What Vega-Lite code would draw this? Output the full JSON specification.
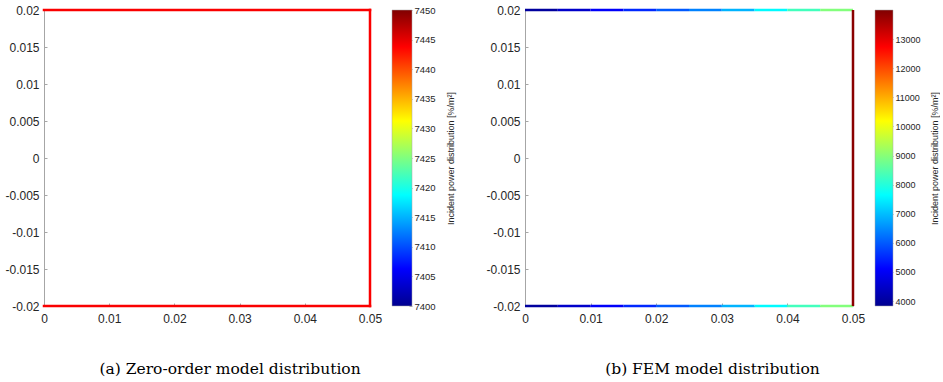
{
  "$schema": "https://vega.github.io/schema/vega-lite/v6.json",
  "padding": {"left": 4, "top": 4, "right": 0, "bottom": 0},
  "background": "white",
  "config": {
    "view": {"stroke": null},
    "axis": {
      "labelFont": "Liberation Sans",
      "labelFontSize": 12,
      "labelColor": "#262626",
      "labelFlush": false,
      "domainColor": "#a6a6a6",
      "tickColor": "#a6a6a6",
      "grid": false,
      "tickSize": -3,
      "titleFont": "Liberation Sans",
      "titleFontWeight": "normal",
      "titleColor": "#262626"
    },
    "axisX": {"labelPadding": 10},
    "axisY": {"labelPadding": 8},
    "title": {"font": "DejaVu Serif", "fontSize": 15.5, "fontWeight": "normal", "color": "#000000"}
  },
  "datasets": {
    "zero": [
      {"x": 0, "x2": 0.05, "y": 0.02, "y2": 0.02, "value": 7444},
      {"x": 0, "x2": 0.05, "y": -0.02, "y2": -0.02, "value": 7444},
      {"x": 0.05, "x2": 0.05, "y": -0.02, "y2": 0.02, "value": 7444}
    ],
    "fem": [
      {"x": 0, "x2": 0.005, "y": 0.02, "y2": 0.02, "value": 4000},
      {"x": 0.005, "x2": 0.01, "y": 0.02, "y2": 0.02, "value": 4500},
      {"x": 0.01, "x2": 0.015, "y": 0.02, "y2": 0.02, "value": 5050},
      {"x": 0.015, "x2": 0.02, "y": 0.02, "y2": 0.02, "value": 5500},
      {"x": 0.02, "x2": 0.025, "y": 0.02, "y2": 0.02, "value": 6000},
      {"x": 0.025, "x2": 0.03, "y": 0.02, "y2": 0.02, "value": 6400},
      {"x": 0.03, "x2": 0.035, "y": 0.02, "y2": 0.02, "value": 6900},
      {"x": 0.035, "x2": 0.04, "y": 0.02, "y2": 0.02, "value": 7600},
      {"x": 0.04, "x2": 0.045, "y": 0.02, "y2": 0.02, "value": 8300},
      {"x": 0.045, "x2": 0.05, "y": 0.02, "y2": 0.02, "value": 8950},
      {"x": 0, "x2": 0.005, "y": -0.02, "y2": -0.02, "value": 4000},
      {"x": 0.005, "x2": 0.01, "y": -0.02, "y2": -0.02, "value": 4500},
      {"x": 0.01, "x2": 0.015, "y": -0.02, "y2": -0.02, "value": 5050},
      {"x": 0.015, "x2": 0.02, "y": -0.02, "y2": -0.02, "value": 5500},
      {"x": 0.02, "x2": 0.025, "y": -0.02, "y2": -0.02, "value": 6000},
      {"x": 0.025, "x2": 0.03, "y": -0.02, "y2": -0.02, "value": 6400},
      {"x": 0.03, "x2": 0.035, "y": -0.02, "y2": -0.02, "value": 6900},
      {"x": 0.035, "x2": 0.04, "y": -0.02, "y2": -0.02, "value": 7600},
      {"x": 0.04, "x2": 0.045, "y": -0.02, "y2": -0.02, "value": 8300},
      {"x": 0.045, "x2": 0.05, "y": -0.02, "y2": -0.02, "value": 8950},
      {"x": 0.05, "x2": 0.05, "y": -0.02, "y2": 0.02, "value": 13900}
    ],
    "barA": [{"lo": 7400, "hi": 7450}],
    "barB": [{"lo": 3830, "hi": 14000}]
  },
  "spacing": 29,
  "resolve": {"scale": {"x": "independent", "y": "independent", "color": "independent"}},
  "hconcat": [
    {
      "title": {"text": "(a) Zero-order model distribution", "orient": "bottom", "anchor": "middle", "offset": 38},
      "spacing": 9,
      "resolve": {"scale": {"x": "independent", "y": "independent", "color": "independent"}},
      "hconcat": [
        {
          "width": 326,
          "height": 296,
          "data": {"name": "zero"},
          "mark": {"type": "rule", "strokeWidth": 2.5, "strokeCap": "square"},
          "encoding": {
            "x": {"field": "x", "type": "quantitative", "scale": {"domain": [0, 0.05], "nice": false},
                  "axis": {"title": null, "values": [0, 0.01, 0.02, 0.03, 0.04, 0.05], "labelExpr": "replace(format(datum.value, '~g'), '\u2212', '-')"}},
            "x2": {"field": "x2"},
            "y": {"field": "y", "type": "quantitative", "scale": {"domain": [-0.02, 0.02], "nice": false, "zero": false},
                  "axis": {"title": null, "values": [-0.02, -0.015, -0.01, -0.005, 0, 0.005, 0.01, 0.015, 0.02], "labelExpr": "replace(format(datum.value, '~g'), '\u2212', '-')"}},
            "y2": {"field": "y2"},
            "color": {"field": "value", "type": "quantitative", "legend": null,
                      "scale": {"domain": [7400, 7406.25, 7418.75, 7431.25, 7443.75, 7450], "range": ["#00008f", "#0000ff", "#00ffff", "#ffff00", "#ff0000", "#800000"], "interpolate": "rgb"}}
          }
        },
        {
          "width": 20,
          "height": 296,
          "data": {"name": "barA"},
          "mark": {"type": "rect", "stroke": "#a6a6a6", "strokeWidth": 0.5,
                   "fill": {"gradient": "linear", "x1": 0, "y1": 1, "x2": 0, "y2": 0,
                            "stops": [{"offset": 0, "color": "#00008f"}, {"offset": 0.125, "color": "#0000ff"}, {"offset": 0.375, "color": "#00ffff"}, {"offset": 0.625, "color": "#ffff00"}, {"offset": 0.875, "color": "#ff0000"}, {"offset": 1, "color": "#800000"}]}},
          "encoding": {
            "x": {"datum": 0, "type": "quantitative", "scale": {"domain": [0, 1]}, "axis": null},
            "x2": {"datum": 1},
            "y": {"field": "lo", "type": "quantitative", "scale": {"domain": [7400, 7450], "nice": false, "zero": false},
                  "axis": {"orient": "right", "values": [7400, 7405, 7410, 7415, 7420, 7425, 7430, 7435, 7440, 7445, 7450], "format": "d", "labelFontSize": 9.5, "labelPadding": 5, "domain": false,
                           "title": "Incident power distribution [%/m²]", "titleFontSize": 9, "titleAngle": 270, "titleBaseline": "top", "titlePadding": 11}},
            "y2": {"field": "hi"}
          }
        }
      ]
    },
    {
      "title": {"text": "(b) FEM model distribution", "orient": "bottom", "anchor": "middle", "offset": 38},
      "spacing": 9,
      "resolve": {"scale": {"x": "independent", "y": "independent", "color": "independent"}},
      "hconcat": [
        {
          "width": 328,
          "height": 296,
          "data": {"name": "fem"},
          "mark": {"type": "rule", "strokeWidth": 2.5, "strokeCap": "butt"},
          "encoding": {
            "x": {"field": "x", "type": "quantitative", "scale": {"domain": [0, 0.05], "nice": false},
                  "axis": {"title": null, "values": [0, 0.01, 0.02, 0.03, 0.04, 0.05], "labelExpr": "replace(format(datum.value, '~g'), '\u2212', '-')"}},
            "x2": {"field": "x2"},
            "y": {"field": "y", "type": "quantitative", "scale": {"domain": [-0.02, 0.02], "nice": false, "zero": false},
                  "axis": {"title": null, "values": [-0.02, -0.015, -0.01, -0.005, 0, 0.005, 0.01, 0.015, 0.02], "labelExpr": "replace(format(datum.value, '~g'), '\u2212', '-')"}},
            "y2": {"field": "y2"},
            "color": {"field": "value", "type": "quantitative", "legend": null,
                      "scale": {"domain": [3830, 5101.25, 7643.75, 10186.25, 12728.75, 14000], "range": ["#00008f", "#0000ff", "#00ffff", "#ffff00", "#ff0000", "#800000"], "interpolate": "rgb"}}
          }
        },
        {
          "width": 18,
          "height": 296,
          "data": {"name": "barB"},
          "mark": {"type": "rect", "stroke": "#a6a6a6", "strokeWidth": 0.5,
                   "fill": {"gradient": "linear", "x1": 0, "y1": 1, "x2": 0, "y2": 0,
                            "stops": [{"offset": 0, "color": "#00008f"}, {"offset": 0.125, "color": "#0000ff"}, {"offset": 0.375, "color": "#00ffff"}, {"offset": 0.625, "color": "#ffff00"}, {"offset": 0.875, "color": "#ff0000"}, {"offset": 1, "color": "#800000"}]}},
          "encoding": {
            "x": {"datum": 0, "type": "quantitative", "scale": {"domain": [0, 1]}, "axis": null},
            "x2": {"datum": 1},
            "y": {"field": "lo", "type": "quantitative", "scale": {"domain": [3830, 14000], "nice": false, "zero": false},
                  "axis": {"orient": "right", "values": [4000, 5000, 6000, 7000, 8000, 9000, 10000, 11000, 12000, 13000], "format": "d", "labelFontSize": 9, "labelPadding": 5, "domain": false,
                           "title": "Incident power distribution [%/m²]", "titleFontSize": 9, "titleAngle": 270, "titleBaseline": "top", "titlePadding": 10}},
            "y2": {"field": "hi"}
          }
        }
      ]
    }
  ]
}
